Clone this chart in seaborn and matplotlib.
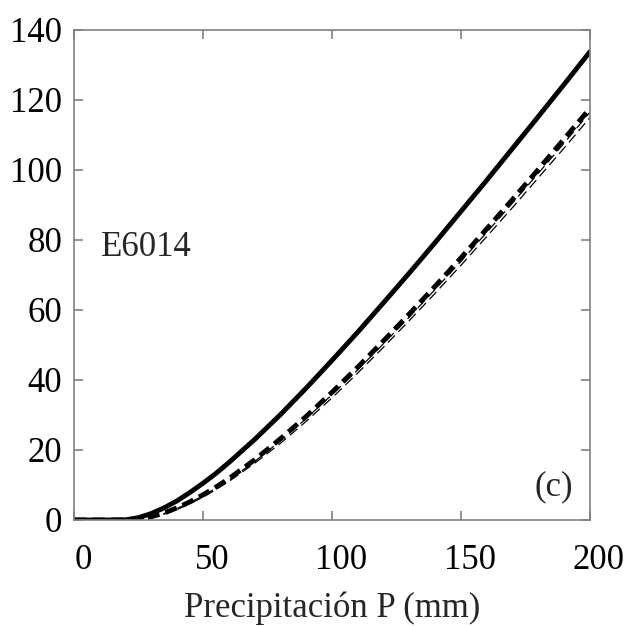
import matplotlib
matplotlib.use("Agg")
import matplotlib.pyplot as plt
import matplotlib.transforms as mtransforms
import seaborn as sns

sns.set_style("white")
plt.rcParams["font.family"] = ["Liberation Serif", "DejaVu Serif"]

# Precipitation (mm)
precip = [0, 10, 15, 20, 25, 30, 35, 40, 45, 50, 55, 60, 70, 80, 90, 100,
          110, 120, 130, 140, 150, 160, 170, 180, 190, 200]

# Runoff curves (mm)
runoff_solid = [0, 0, 0, 0.06, 0.67, 1.86, 3.5, 5.5, 7.9, 10.5, 13.3, 16.4,
                23.0, 30.1, 37.7, 45.6, 53.7, 62.1, 70.6, 79.3, 88.2, 97.1,
                106.2, 115.3, 124.5, 133.8]
runoff_dash_thick = [0, 0, 0, 0, 0.25, 0.95, 2.0, 3.5, 5.2, 7.2, 9.4, 11.8,
                     17.2, 23.2, 29.6, 36.5, 43.7, 51.2, 58.9, 66.8, 74.9,
                     83.2, 91.6, 100.2, 108.9, 117.6]
runoff_dash_mid = [0, 0, 0, 0, 0.2, 0.85, 1.85, 3.3, 5.0, 6.9, 9.1, 11.4,
                   16.7, 22.6, 29.0, 35.8, 42.9, 50.4, 58.0, 65.9, 73.9,
                   82.2, 90.6, 99.1, 107.7, 116.5]
runoff_dash_thin = [0, 0, 0, 0, 0.15, 0.75, 1.7, 3.0, 4.7, 6.5, 8.7, 11.0,
                    16.2, 21.9, 28.2, 34.9, 42.0, 49.4, 57.0, 64.8, 72.8,
                    81.0, 89.3, 97.8, 106.3, 115.0]

x_ticks = [0, 50, 100, 150, 200]
y_ticks = [0, 20, 40, 60, 80, 100, 120, 140]

FS = 25

fig = plt.figure(figsize=(6.3, 6.26), dpi=100)
ax = fig.add_axes([74 / 630, 106 / 626, 516 / 630, 490 / 626])

sns.lineplot(x=precip, y=runoff_dash_thin, ax=ax, color="black",
             linewidth=0.9)
ax.lines[-1].set_dashes([8, 4])
sns.lineplot(x=precip, y=runoff_dash_mid, ax=ax, color="black",
             linewidth=0.9)
ax.lines[-1].set_dashes([8, 4])
sns.lineplot(x=precip, y=runoff_dash_thick, ax=ax, color="black",
             linewidth=3.5)
ax.lines[-1].set_dashes([2.5, 1.3])
sns.lineplot(x=precip, y=runoff_solid, ax=ax, color="black",
             linewidth=3.5)

ax.set_xlim(0, 200)
ax.set_ylim(0, 140)
ax.set_xticks(x_ticks)
ax.set_yticks(y_ticks)

for side in ["left", "right", "top", "bottom"]:
    ax.spines[side].set_visible(True)
    ax.spines[side].set_color("#808080")
    ax.spines[side].set_linewidth(1.2)

ax.tick_params(axis="both", which="both", direction="in", length=6.5,
               width=1.2, color="#808080", labelsize=FS, labelcolor="black",
               top=True, right=True, bottom=True, left=True)
ax.tick_params(axis="x", pad=17.5)
ax.tick_params(axis="y", pad=8.5)

shift = mtransforms.ScaledTranslation(9 / 100, 0, fig.dpi_scale_trans)
for lbl in ax.get_xticklabels():
    lbl.set_transform(lbl.get_transform() + shift)

ax.set_xlabel("Precipitación P (mm)", fontsize=FS, labelpad=10)
ax.set_ylabel("")

ax.text(10.5, 77.9, "E6014", fontsize=FS, va="center", ha="left")
ax.text(193.4, 9.4, "(c)", fontsize=FS, va="center", ha="right")

fig.savefig("out.png", dpi=100, facecolor="white")
